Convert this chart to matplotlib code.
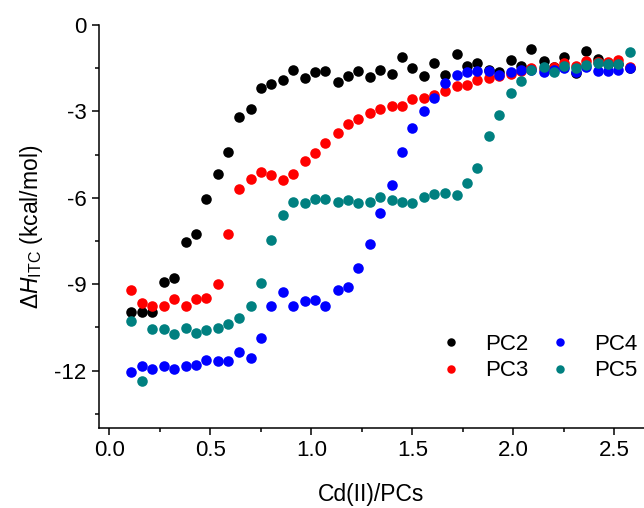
import matplotlib
matplotlib.use("Agg")
import matplotlib.pyplot as plt
from matplotlib.ticker import MultipleLocator

plt.rcParams['font.family'] = ['Liberation Sans', 'DejaVu Sans']
plt.rcParams['mathtext.fontset'] = 'custom'
plt.rcParams['mathtext.rm'] = 'Liberation Sans'
plt.rcParams['mathtext.it'] = 'Liberation Sans:italic'
plt.rcParams['axes.unicode_minus'] = False

# Cd(II)/PCs molar ratio (shared by all titrations)
ratio = [0.11, 0.16, 0.21, 0.27, 0.32, 0.38, 0.43, 0.48, 0.54, 0.59,
         0.64, 0.70, 0.75, 0.80, 0.86, 0.91, 0.97, 1.02, 1.07, 1.13,
         1.18, 1.23, 1.29, 1.34, 1.40, 1.45, 1.50, 1.56, 1.61, 1.66,
         1.72, 1.77, 1.82, 1.88, 1.93, 1.99, 2.04, 2.09, 2.15, 2.20,
         2.25, 2.31, 2.36, 2.42, 2.47, 2.52, 2.58]

pc2 = [-9.95, -9.95, -9.95, -8.94, -8.80, -7.55, -7.26, -6.06, -5.19, -4.41,
       -3.18, -2.91, -2.19, -2.04, -1.93, -1.55, -1.83, -1.64, -1.59, -1.97,
       -1.79, -1.59, -1.81, -1.58, -1.70, -1.12, -1.51, -1.76, -1.33, -1.73,
       -1.01, -1.41, -1.34, -1.55, -1.65, -1.23, -1.44, -0.83, -1.27, -1.45,
       -1.13, -1.67, -0.90, -1.19, -1.35, -1.35, -1.48]

pc3 = [-9.19, -9.65, -9.77, -9.75, -9.52, -9.77, -9.52, -9.47, -8.99, -7.26,
       -5.69, -5.34, -5.11, -5.20, -5.39, -5.17, -4.74, -4.43, -4.11, -3.75,
       -3.43, -3.25, -3.07, -2.91, -2.81, -2.80, -2.57, -2.55, -2.42, -2.30,
       -2.13, -2.10, -1.90, -1.85, -1.79, -1.70, -1.59, -1.48, -1.52, -1.46,
       -1.33, -1.44, -1.27, -1.30, -1.29, -1.23, -1.45]

pc4 = [-12.05, -11.83, -11.94, -11.85, -11.96, -11.85, -11.81, -11.62, -11.68, -11.66,
       -11.35, -11.55, -10.88, -9.76, -9.27, -9.75, -9.58, -9.55, -9.77, -9.20,
       -9.09, -8.45, -7.61, -6.54, -5.56, -4.40, -3.59, -2.98, -2.54, -2.03,
       -1.74, -1.65, -1.61, -1.59, -1.73, -1.65, -1.58, -1.56, -1.65, -1.55,
       -1.50, -1.64, -1.45, -1.59, -1.61, -1.56, -1.50]

pc5 = [-10.27, -12.37, -10.57, -10.57, -10.73, -10.53, -10.68, -10.59, -10.51, -10.39,
       -10.18, -9.77, -8.95, -7.45, -6.60, -6.16, -6.18, -6.06, -6.06, -6.16,
       -6.08, -6.18, -6.16, -5.97, -6.07, -6.14, -6.19, -5.97, -5.86, -5.84,
       -5.91, -5.50, -4.98, -3.84, -3.14, -2.35, -1.94, -1.56, -1.45, -1.64,
       -1.44, -1.48, -1.38, -1.33, -1.35, -1.36, -0.95]

labels = ['PC2', 'PC3', 'PC4', 'PC5']
colors = ['black', '#ff0000', '#0000ff', '#008080']

fig = plt.figure(figsize=(6.44, 5.08), dpi=100)
ax = fig.add_axes([0.153, 0.157, 0.847, 0.794])

for ys, lab, c in zip([pc2, pc3, pc4, pc5], labels, colors):
    ax.plot(ratio, ys, 'o', color=c, markersize=7.6, markeredgewidth=0, label=lab)

ax.set_xlim(-0.053, 2.647)
ax.set_ylim(-14, 0)
ax.xaxis.set_major_locator(MultipleLocator(0.5))
ax.xaxis.set_minor_locator(MultipleLocator(0.25))
ax.yaxis.set_major_locator(MultipleLocator(3))
ax.yaxis.set_minor_locator(MultipleLocator(1.5))
ax.xaxis.set_major_formatter(matplotlib.ticker.FormatStrFormatter('%.1f'))
ax.yaxis.set_major_formatter(matplotlib.ticker.FormatStrFormatter('%d'))

for s in ['top', 'right']:
    ax.spines[s].set_visible(False)
for s in ['left', 'bottom']:
    ax.spines[s].set_linewidth(1.1)

ax.tick_params(which='major', direction='out', length=5, width=1.1, labelsize=16)
ax.tick_params(which='minor', direction='out', length=3, width=1.1)

ax.set_xlabel('Cd(II)/PCs', fontsize=16.5, labelpad=16)
ax.set_ylabel(r'Δ$\mathit{H}_{\mathrm{ITC}}$ (kcal/mol)', fontsize=16.5, labelpad=7)

ax.legend(loc='upper left', bbox_to_anchor=(0.683, 0.343), bbox_transform=fig.transFigure,
          ncol=2, frameon=False, fontsize=16, markerscale=0.8, handlelength=1.0,
          handletextpad=1.05, columnspacing=0.9, labelspacing=0.25,
          borderpad=0, borderaxespad=0)

fig.savefig('out.png', dpi=100)
